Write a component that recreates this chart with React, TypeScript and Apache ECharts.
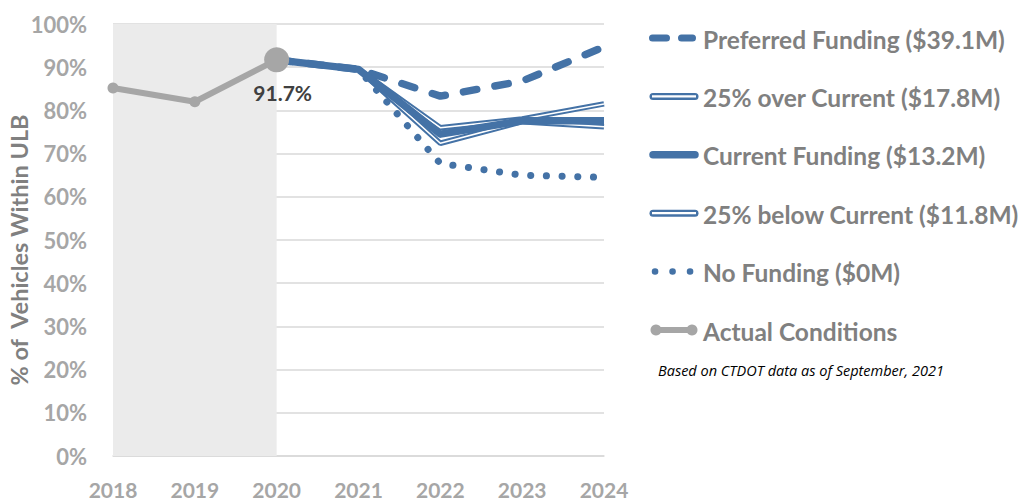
import React, { useEffect, useRef } from "react";
import * as echarts from "echarts";

const years = ["2018", "2019", "2020", "2021", "2022", "2023", "2024"];
const actual = [85.2, 82.0, 91.7, null, null, null, null];
const preferred = [null, null, 91.7, 89.5, 83.3, 86.8, 94.7];
const over25 = [null, null, 91.7, 89.5, 76.0, 78.0, 81.5];
const current = [null, null, 91.7, 89.5, 74.5, 77.6, 77.6];
const below25 = [null, null, 91.7, 89.5, 72.4, 77.4, 76.2];
const noFunding = [null, null, 91.7, 89.5, 67.7, 65.0, 64.5];
const legendLabels = [
  "Preferred Funding ($39.1M)",
  "25% over Current ($17.8M)",
  "Current Funding ($13.2M)",
  "25% below Current ($11.8M)",
  "No Funding ($0M)",
  "Actual Conditions",
];
const yAxisTitle = "% of  Vehicles Within ULB";
const noteText = "Based on CTDOT data as of September, 2021";

const BLUE = "#4472A6";
const GRAY = "#A6A6A6";
const FONT = "Lato, 'Open Sans', sans-serif";

export default function App() {
  const ref = useRef<HTMLDivElement>(null);
  useEffect(() => {
    if (!ref.current) return;
    const chart = echarts.init(ref.current, null, { renderer: "svg" });

    const legendY = [38, 96.4, 154.8, 213.2, 271.6, 330];
    const lx0 = 651, lx1 = 697, tx = 703;
    const graphics: any[] = [];
    // Preferred dashed
    graphics.push({ type: "line", shape: { x1: 652.5, y1: legendY[0], x2: 692.5, y2: legendY[0] }, style: { stroke: BLUE, lineWidth: 7, lineDash: [14, 15], lineCap: "round" } });
    // 25% over double
    graphics.push({ type: "line", shape: { x1: lx0 + 2, y1: legendY[1], x2: lx1 - 2, y2: legendY[1] }, style: { stroke: BLUE, lineWidth: 7, lineCap: "round" } });
    graphics.push({ type: "line", shape: { x1: lx0 + 1, y1: legendY[1], x2: lx1 - 1, y2: legendY[1] }, style: { stroke: "#fff", lineWidth: 2.2, lineCap: "butt" } });
    // current thick
    graphics.push({ type: "line", shape: { x1: lx0 + 2, y1: legendY[2], x2: lx1 - 2, y2: legendY[2] }, style: { stroke: BLUE, lineWidth: 7.5, lineCap: "round" } });
    // 25% below double
    graphics.push({ type: "line", shape: { x1: lx0 + 2, y1: legendY[3], x2: lx1 - 2, y2: legendY[3] }, style: { stroke: BLUE, lineWidth: 7, lineCap: "round" } });
    graphics.push({ type: "line", shape: { x1: lx0 + 1, y1: legendY[3], x2: lx1 - 1, y2: legendY[3] }, style: { stroke: "#fff", lineWidth: 2.2, lineCap: "butt" } });
    // No funding dotted
    graphics.push({ type: "line", shape: { x1: 655, y1: legendY[4], x2: 692, y2: legendY[4] }, style: { stroke: BLUE, lineWidth: 6.5, lineDash: [0.1, 17.4], lineCap: "round" } });
    // Actual
    graphics.push({ type: "line", shape: { x1: lx0 + 5, y1: legendY[5], x2: lx1 - 5, y2: legendY[5] }, style: { stroke: GRAY, lineWidth: 6 } });
    graphics.push({ type: "circle", shape: { cx: lx0 + 5, cy: legendY[5], r: 5.5 }, style: { fill: GRAY } });
    graphics.push({ type: "circle", shape: { cx: lx1 - 5, cy: legendY[5], r: 5.5 }, style: { fill: GRAY } });
    legendLabels.forEach((t, i) => {
      graphics.push({
        type: "text",
        x: tx,
        y: legendY[i] + 1,
        style: { text: t, fill: "#808080", font: `bold 24.5px ${FONT}`, verticalAlign: "middle" },
      });
    });
    graphics.push({
      type: "text",
      x: 658,
      y: 370,
      style: { text: noteText, fill: "#000", font: `italic 14.5px 'Open Sans', sans-serif`, verticalAlign: "middle" },
    });
    graphics.push({
      type: "text",
      x: 19,
      y: 250,
      rotation: Math.PI / 2,
      style: { text: yAxisTitle, fill: "#808080", font: `bold 23.5px ${FONT}`, align: "center", verticalAlign: "middle" },
    });

    const base = { type: "line", showSymbol: false, symbol: "none", connectNulls: false, silent: true };

    chart.setOption({
      animation: false,
      grid: { left: 113, right: 417, top: 24, bottom: 46, containLabel: false, outerBoundsMode: "none" },
      xAxis: {
        type: "category",
        data: years,
        boundaryGap: false,
        axisLine: { show: true, lineStyle: { color: "#D9D9D9", width: 1.5 } },
        axisTick: { show: false },
        axisLabel: { color: GRAY, fontWeight: "bold", fontSize: 21, lineHeight: 18, fontFamily: FONT, margin: 24 },
        splitLine: { show: false },
      },
      yAxis: {
        type: "value",
        min: 0,
        max: 100,
        interval: 10,
        axisLine: { show: false },
        axisTick: { show: false },
        axisLabel: { color: GRAY, fontWeight: "bold", fontSize: 22, fontFamily: FONT, margin: 26, formatter: "{value}%" },
        splitLine: { lineStyle: { color: "#D9D9D9", width: 1.5 } },
      },
      graphic: graphics,
      series: [
        {
          ...base,
          name: "shade",
          data: [],
          markArea: {
            silent: true,
            itemStyle: { color: "#EBEBEB" },
            data: [[{ xAxis: "2018", yAxis: 0 }, { xAxis: "2020", yAxis: 100 }]],
          },
          z: 0,
        },
        { ...base, name: legendLabels[1], data: over25, lineStyle: { color: BLUE, width: 5.5 }, z: 2 },
        { ...base, name: "over-inner", data: over25, lineStyle: { color: "#fff", width: 1.6 }, z: 2 },
        { ...base, name: legendLabels[3], data: below25, lineStyle: { color: BLUE, width: 5.5 }, z: 2 },
        { ...base, name: "below-inner", data: below25, lineStyle: { color: "#fff", width: 1.6 }, z: 2 },
        { ...base, name: legendLabels[4], data: noFunding, lineStyle: { color: BLUE, width: 7, type: [0.1, 15.6], cap: "round" }, z: 3 },
        { ...base, name: legendLabels[0], data: preferred, lineStyle: { color: BLUE, width: 7.5, type: [13.5, 18.5], cap: "round" }, z: 3 },
        { ...base, name: legendLabels[2], data: current, lineStyle: { color: BLUE, width: 7.5, join: "round" }, z: 4 },
        {
          type: "line",
          name: legendLabels[5],
          silent: true,
          data: actual.map((v, i) =>
            i === 2
              ? {
                  value: v,
                  symbolSize: 25,
                  label: {
                    show: true,
                    position: "bottom",
                    offset: [6, 5],
                    formatter: "{c}%",
                    color: "#404040",
                    fontWeight: "bold",
                    fontSize: 21,
                    fontFamily: FONT,
                  },
                }
              : v
          ),
          symbol: "circle",
          symbolSize: 11,
          showSymbol: true,
          itemStyle: { color: GRAY },
          lineStyle: { color: GRAY, width: 6 },
          z: 5,
        },
      ],
    });
    return () => chart.dispose();
  }, []);
  return <div ref={ref} style={{ position: "absolute", left: 0, top: 0, width: 1021, height: 502 }} />;
}
